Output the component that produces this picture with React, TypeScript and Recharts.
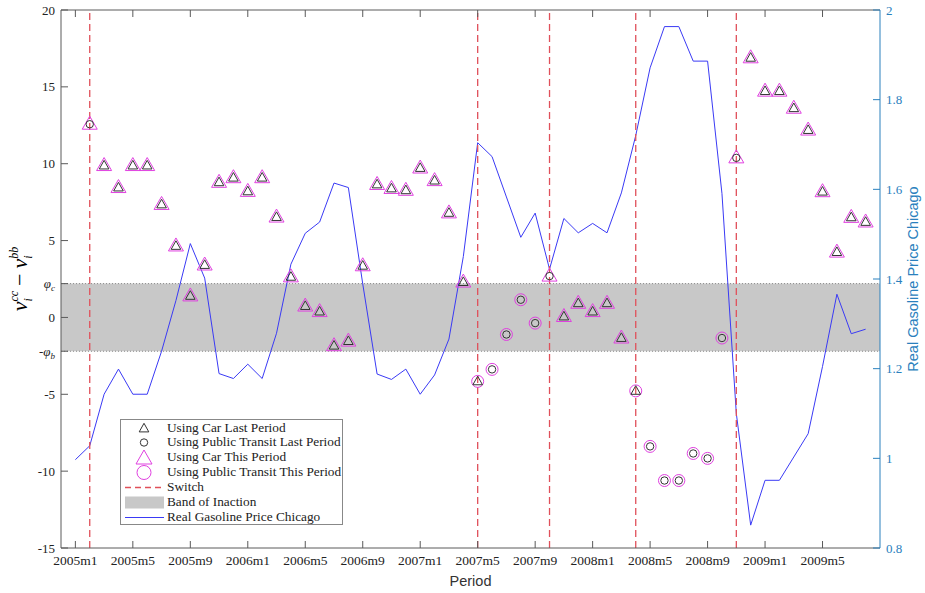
import React from "react";
import {
  ComposedChart,
  Line,
  Scatter,
  XAxis,
  YAxis,
  ReferenceArea,
  ReferenceLine,
} from "recharts";

// period index: 1 = 2005m1 ... 56 = 2009m8
const tickPeriods = [1, 5, 9, 13, 17, 21, 25, 29, 33, 37, 41, 45, 49, 53];
const tickLabels = [
  "2005m1", "2005m5", "2005m9", "2006m1", "2006m5", "2006m9", "2007m1",
  "2007m5", "2007m9", "2008m1", "2008m5", "2008m9", "2009m1", "2009m5",
];

// real gasoline price, periods 1..56
const gasPrice = [
  0.997, 1.028, 1.143, 1.199, 1.143, 1.143, 1.239, 1.352, 1.479, 1.402,
  1.189, 1.178, 1.21, 1.178, 1.279, 1.433, 1.502, 1.527, 1.614, 1.604,
  1.389, 1.188, 1.176, 1.199, 1.143, 1.186, 1.266, 1.45, 1.704, 1.673,
  1.583, 1.493, 1.547, 1.422, 1.535, 1.503, 1.524, 1.503, 1.592, 1.72,
  1.871, 1.963, 1.963, 1.886, 1.886, 1.591, 1.1, 0.851, 0.951, 0.951,
  1.003, 1.055, 1.205, 1.366, 1.278, 1.288,
];

// nu_cc - nu_bb, periods 2..56
const nuDiff = [
  12.57, 9.88, 8.45, 9.88, 9.88, 7.35, 4.65, 1.4, 3.41, 8.79,
  9.09, 8.2, 9.09, 6.53, 2.64, 0.74, 0.38, -1.84, -1.54, 3.36,
  8.65, 8.39, 8.27, 9.72, 8.9, 6.8, 2.3, -4.16, -3.38, -1.11,
  1.15, -0.37, 2.69, 0.06, 0.92, 0.38, 0.92, -1.34, -4.78, -8.39,
  -10.61, -10.61, -8.85, -9.17, -1.34, 10.38, 16.89, 14.72, 14.72, 13.61,
  12.19, 8.18, 4.25, 6.51, 6.21,
];

// mode used last period / this period (C = car, P = public transit), periods 2..56
const lastMode = (
  "P" +
  "CCCCCCCCC" + "CCCCCCCCC" + "CCCCCCCCC" +
  "PPPPP" +
  "CCCCCC" +
  "PPPPPPP" +
  "CCCCCCCCC"
).split("");
const thisMode = (
  "CCCCCCCCC" + "CCCCCCCCC" + "CCCCCCCCC" +
  "PPPPP" +
  "CCCCCC" +
  "PPPPPPP" +
  "CCCCCCCCCC"
).split("");

const switchPeriods = [2, 29, 34, 40, 47];
const phiC = 2.2;
const phiB = 2.2;

const leftTicks = [-15, -10, -5, -phiB, 0, phiC, 5, 10, 15, 20];
const rightTicks = [0.8, 1, 1.2, 1.4, 1.6, 1.8, 2];

const priceData = gasPrice.map((p, i) => ({ t: i + 1, p }));
const points = nuDiff.map((v, i) => ({ t: i + 2, v, last: lastMode[i], now: thisMode[i] }));
const carLast = points.filter((d) => d.last === "C");
const ptLast = points.filter((d) => d.last === "P");
const carNow = points.filter((d) => d.now === "C");
const ptNow = points.filter((d) => d.now === "P");

const PLOT_TOP = 10;
const AXIS = "#5a5a5a";
const RIGHT = "#2a80bd";
const MAGENTA = "#e040e0";
const INK = "#333";
const SERIF = "'Liberation Serif', 'DejaVu Serif', serif";
const SANS = "'Liberation Sans', Arial, sans-serif";

const triPath = (cx: number, cy: number, hw: number, up: number, down: number) =>
  `M${cx},${cy - up} L${cx + hw},${cy + down} L${cx - hw},${cy + down} Z`;

const SmallTri = (props: any) => (
  <path d={triPath(props.cx, props.cy, 4.8, 5.2, 3.4)} fill="none" stroke={INK} strokeWidth={1} />
);
const BigTri = (props: any) => (
  <path d={triPath(props.cx, props.cy, 7.5, 8, 5)} fill="none" stroke={MAGENTA} strokeWidth={1} />
);
const SmallCircle = (props: any) => (
  <circle cx={props.cx} cy={props.cy} r={3.7} fill="none" stroke={INK} strokeWidth={1} />
);
const BigCircle = (props: any) => (
  <circle cx={props.cx} cy={props.cy} r={6} fill="none" stroke={MAGENTA} strokeWidth={1} />
);

// inward tick marks (bottom + matching tick on the top border)
const BottomTick = (props: any) => {
  const { x, y, payload } = props;
  const idx = tickPeriods.indexOf(payload.value);
  const d = `M${x},${y} V${y - 7} M${x},${PLOT_TOP} V${PLOT_TOP + 7}`;
  return (
    <g>
      <path d={d} stroke={AXIS} strokeWidth={1} fill="none" />
      <text x={x} y={y + 17} textAnchor="middle" fontFamily={SERIF} fontSize={13.5} fill="#222">
        {idx >= 0 ? tickLabels[idx] : ""}
      </text>
    </g>
  );
};

const LeftTick = (props: any) => {
  const { x, y, payload } = props;
  const v = payload.value;
  let label: React.ReactNode = String(v);
  if (Math.abs(v - phiC) < 1e-9) {
    label = (
      <>
        <tspan fontStyle="italic">φ</tspan>
        <tspan fontSize={9} dy={3} fontStyle="italic">c</tspan>
      </>
    );
  } else if (Math.abs(v + phiB) < 1e-9) {
    label = (
      <>
        <tspan>-</tspan>
        <tspan fontStyle="italic">φ</tspan>
        <tspan fontSize={9} dy={3} fontStyle="italic">b</tspan>
      </>
    );
  }
  return (
    <g>
      <path d={`M${x},${y} H${x + 7}`} stroke={AXIS} strokeWidth={1} fill="none" />
      <text x={x - 6} y={y + 4.5} textAnchor="end" fontFamily={SERIF} fontSize={13} fill="#222">
        {label}
      </text>
    </g>
  );
};

const RightTick = (props: any) => {
  const { x, y, payload } = props;
  return (
    <g>
      <path d={`M${x},${y} H${x - 7}`} stroke={RIGHT} strokeWidth={1} fill="none" />
      <text x={x + 6} y={y + 4.5} textAnchor="start" fontFamily={SERIF} fontSize={13} fill={RIGHT}>
        {String(Number(payload.value.toFixed(1)))}
      </text>
    </g>
  );
};

const LeftLabel = (props: any) => {
  const vb = props.viewBox || { x: 0, y: 10, width: 61, height: 538 };
  const cx = vb.x + 27;
  const cy = vb.y + vb.height / 2;
  return (
    <text
      transform={`translate(${cx},${cy}) rotate(-90)`}
      textAnchor="middle"
      fontFamily={SERIF}
      fontStyle="italic"
      fontSize={22}
      fill="#000"
    >
      <tspan>ν</tspan>
      <tspan fontSize={12} dy={5}>i</tspan>
      <tspan fontSize={12} dx={-3.3} dy={-14}>cc</tspan>
      <tspan fontStyle="normal" dx={5} dy={9}>−</tspan>
      <tspan dx={5}>ν</tspan>
      <tspan fontSize={12} dy={5}>i</tspan>
      <tspan fontSize={12} dx={-3.3} dy={-14}>bb</tspan>
    </text>
  );
};

const RightLabel = (props: any) => {
  const vb = props.viewBox || { x: 880, y: 10, width: 45, height: 538 };
  const cx = vb.x + vb.width - 7;
  const cy = vb.y + vb.height / 2;
  return (
    <text
      transform={`translate(${cx},${cy}) rotate(-90)`}
      textAnchor="middle"
      fontFamily={SANS}
      fontSize={14.5}
      fill={RIGHT}
    >
      Real Gasoline Price Chicago
    </text>
  );
};

const BottomLabel = (props: any) => {
  const vb = props.viewBox || { x: 61, y: 548, width: 819, height: 45 };
  return (
    <text x={vb.x + vb.width / 2} y={vb.y + 38} textAnchor="middle" fontFamily={SANS} fontSize={14.5} fill="#333">
      Period
    </text>
  );
};

const legendRows: { label: string; icon: React.ReactNode }[] = [
  { label: "Using Car Last Period", icon: <SmallTri cx={20} cy={7.5} /> },
  { label: "Using Public Transit Last Period", icon: <SmallCircle cx={20} cy={7.5} /> },
  { label: "Using Car This Period", icon: <path d={triPath(20, 8.5, 8, 8.5, 5.5)} fill="none" stroke={MAGENTA} /> },
  { label: "Using Public Transit This Period", icon: <circle cx={20} cy={7.5} r={7} fill="none" stroke={MAGENTA} /> },
  { label: "Switch", icon: <line x1={1} x2={40} y1={7.5} y2={7.5} stroke="#e0505a" strokeWidth={1.3} strokeDasharray="6 4" /> },
  { label: "Band of Inaction", icon: <rect x={1} y={1.5} width={39} height={12} fill="#c8c8c8" /> },
  { label: "Real Gasoline Price Chicago", icon: <line x1={1} x2={40} y1={7.5} y2={7.5} stroke="#3a3af5" strokeWidth={1} /> },
];

const LegendBox = () => (
  <div
    style={{
      position: "absolute",
      left: 120,
      top: 419,
      width: 223,
      height: 106,
      boxSizing: "border-box",
      border: "1px solid #888",
      background: "#fff",
      paddingTop: 0.5,
      fontFamily: SERIF,
      fontSize: 13.3,
      color: "#222",
    }}
  >
    {legendRows.map((r) => (
      <div key={r.label} style={{ position: "relative", height: 14.9, lineHeight: "14.9px" }}>
        <svg width={44} height={15} style={{ position: "absolute", left: 3, top: 0 }}>
          {r.icon}
        </svg>
        <span style={{ position: "absolute", left: 46, top: 0, whiteSpace: "nowrap" }}>{r.label}</span>
      </div>
    ))}
  </div>
);

export default function App() {
  return (
    <div style={{ position: "absolute", left: 0, top: 0, width: 925, height: 593, background: "#fff" }}>
      <ComposedChart width={925} height={593} margin={{ top: PLOT_TOP, right: 0, bottom: 0, left: 0 }}>
        <XAxis
          dataKey="t"
          type="number"
          domain={[0, 57]}
          allowDataOverflow
          ticks={tickPeriods}
          interval={0}
          height={45}
          tickSize={0}
          tickMargin={0}
          tickLine={false}
          axisLine={{ stroke: AXIS }}
          tick={<BottomTick />}
          label={<BottomLabel />}
        />
        <YAxis
          yAxisId="left"
          type="number"
          domain={[-15, 20]}
          allowDataOverflow
          ticks={leftTicks}
          interval={0}
          width={61}
          tickSize={0}
          tickMargin={0}
          tickLine={false}
          axisLine={{ stroke: AXIS }}
          tick={<LeftTick />}
          label={<LeftLabel />}
        />
        <YAxis
          yAxisId="right"
          orientation="right"
          type="number"
          domain={[0.8, 2]}
          allowDataOverflow
          ticks={rightTicks}
          interval={0}
          width={45}
          tickSize={0}
          tickMargin={0}
          tickLine={false}
          axisLine={{ stroke: RIGHT }}
          tick={<RightTick />}
          label={<RightLabel />}
        />

        <ReferenceArea yAxisId="left" y1={-phiB} y2={phiC} fill="#c8c8c8" fillOpacity={1} stroke="none" />
        <ReferenceLine yAxisId="left" y={phiC} stroke="#8a8a8a" strokeDasharray="1 2" />
        <ReferenceLine yAxisId="left" y={-phiB} stroke="#8a8a8a" strokeDasharray="1 2" />
        {/* top border of the box */}
        <ReferenceLine yAxisId="left" y={20} stroke={AXIS} strokeWidth={1} ifOverflow="visible" />

        <Line
          yAxisId="right"
          data={priceData}
          dataKey="p"
          type="linear"
          stroke="#3a3af5"
          strokeWidth={1}
          dot={false}
          activeDot={false}
          isAnimationActive={false}
        />

        {switchPeriods.map((t) => (
          <ReferenceLine
            key={t}
            yAxisId="left"
            x={t}
            stroke="#e0505a"
            strokeWidth={1.3}
            strokeDasharray="7 4"
          />
        ))}

        <Scatter yAxisId="left" data={carNow} dataKey="v" shape={BigTri} isAnimationActive={false} />
        <Scatter yAxisId="left" data={ptNow} dataKey="v" shape={BigCircle} isAnimationActive={false} />
        <Scatter yAxisId="left" data={carLast} dataKey="v" shape={SmallTri} isAnimationActive={false} />
        <Scatter yAxisId="left" data={ptLast} dataKey="v" shape={SmallCircle} isAnimationActive={false} />
      </ComposedChart>
      <LegendBox />
    </div>
  );
}
